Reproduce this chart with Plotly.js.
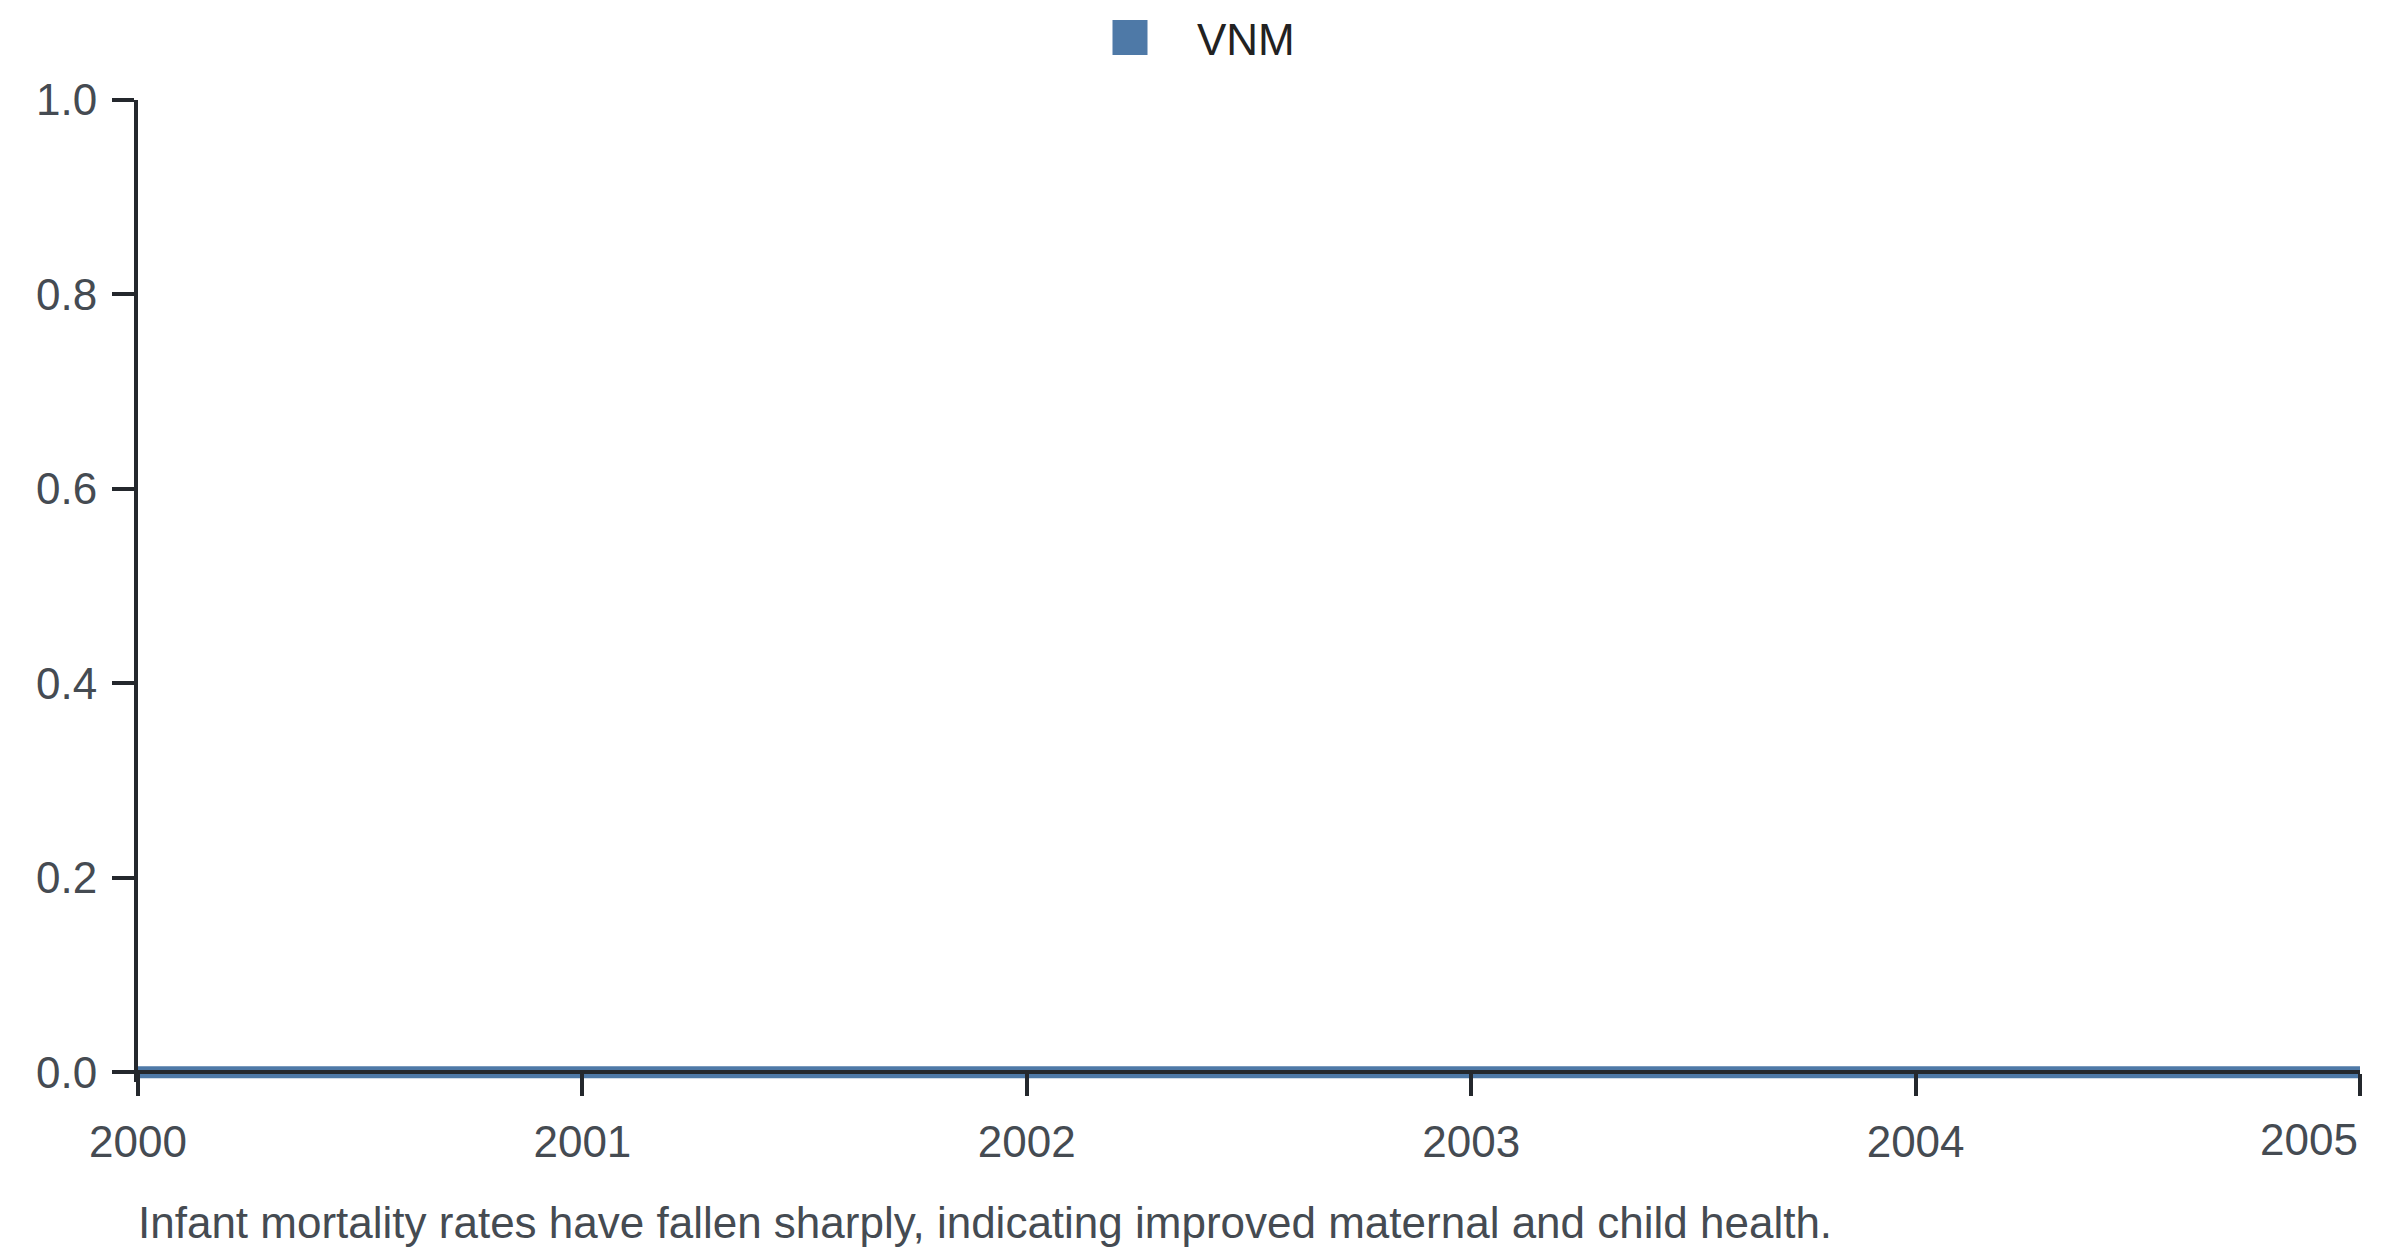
<!DOCTYPE html>
<html>
<head>
<meta charset="utf-8">
<script src="https://cdn.plot.ly/plotly-3.0.1.min.js"></script>
<style>
  html, body { margin: 0; padding: 0; background: #fff; }
  #frame { width: 2400px; height: 1256px; position: relative; overflow: hidden; }
  /* drawn at half size and scaled up, so the legend square can be as big as the original */
  #chart { position: absolute; left: 0; top: 0; width: 1200px; height: 628px; transform: scale(2); transform-origin: 0 0; }
</style>
</head>
<body>
<div id="frame"><div id="chart"></div></div>
<script>
const years = [2000, 2001, 2002, 2003, 2004, 2005];
const vnmValues = [0, 0, 0, 0, 0, 0];
const xTickLabels = ['2000', '2001', '2002', '2003', '2004', '2005'];
const yTickValues = [0, 0.2, 0.4, 0.6, 0.8, 1.0];
const seriesName = 'VNM';
const caption = 'Infant mortality rates have fallen sharply, indicating improved maternal and child health.';

const blue = '#4e79a7';
const ink = '#24282d';
const labelGrey = '#454b52';
const fontFamily = 'Arial, "Liberation Sans", sans-serif';

const W = 1200, H = 628;
const marginL = 69, marginR = 20;
const plotTop = 50, zeroY = 536;

// a little room below zero so the thick band is not clipped by the plot area
const yPad = 0.01;
const plotH = (zeroY - plotTop) * (1 + yPad);
const last = years.length - 1;

const band = {
    x: years,
    y: vnmValues,
    type: 'scatter',
    mode: 'lines',
    line: {color: blue, width: 6},
    showlegend: false,
    hoverinfo: 'skip'
};
// legend entry only, so the key is a square like the original.
// it sits on xaxis2, which also carries the last year label
const legendKey = {
    x: [null],
    y: [null],
    xaxis: 'x2',
    type: 'scatter',
    mode: 'markers',
    name: seriesName,
    marker: {symbol: 'square', size: 16, color: blue, line: {color: blue, width: 1.5}}
};

const axisCommon = {
    showgrid: false,
    zeroline: false,
    showline: true,
    linecolor: ink,
    linewidth: 2,
    ticks: 'outside',
    ticklen: 11,
    tickwidth: 2,
    tickcolor: ink,
    tickfont: {family: fontFamily, size: 22, color: labelGrey},
    fixedrange: true
};

const xRange = [years[0], years[last]];

const layout = {
    width: W,
    height: H,
    margin: {l: marginL, r: marginR, t: plotTop, b: H - plotTop - plotH, pad: 0},
    paper_bgcolor: '#fff',
    plot_bgcolor: '#fff',
    font: {family: fontFamily, size: 22, color: labelGrey},
    hovermode: false,
    showlegend: true,
    legend: {
        orientation: 'h',
        xref: 'container', x: 531.5 / W, xanchor: 'left',
        yref: 'container', y: 1 - 19 / H, yanchor: 'middle',
        itemwidth: 57,
        font: {family: fontFamily, size: 22, color: '#222'},
        bgcolor: 'rgba(0,0,0,0)'
    },
    xaxis: Object.assign({}, axisCommon, {
        type: 'linear',
        range: xRange,
        tickmode: 'array',
        tickvals: years,
        // the last label is drawn by xaxis2 so it can end at its tick
        ticktext: xTickLabels.map((t, i) => i === last ? '' : t),
        ticklabelstandoff: 4,
        anchor: 'free',
        position: yPad / (1 + yPad)
    }),
    xaxis2: Object.assign({}, axisCommon, {
        type: 'linear',
        overlaying: 'x',
        range: xRange,
        showline: false,
        tickcolor: 'rgba(0,0,0,0)',
        tickmode: 'array',
        tickvals: [years[last]],
        ticktext: [xTickLabels[last]],
        ticklabelposition: 'outside left',
        ticklabelstandoff: 14,
        anchor: 'free',
        position: yPad / (1 + yPad)
    }),
    yaxis: Object.assign({}, axisCommon, {
        range: [-yPad, 1],
        tickmode: 'array',
        tickvals: yTickValues,
        tickformat: '.1f',
        ticklabelstandoff: 3
    }),
    annotations: [{
        text: caption,
        xref: 'paper', x: 0, xanchor: 'left', xshift: -2,
        yref: 'paper', y: -(611 - (plotTop + plotH)) / plotH, yanchor: 'middle',
        showarrow: false,
        font: {family: fontFamily, size: 22, color: labelGrey}
    }]
};

Plotly.newPlot('chart', [band, legendKey], layout, {displayModeBar: false, staticPlot: true});
</script>
</body>
</html>
